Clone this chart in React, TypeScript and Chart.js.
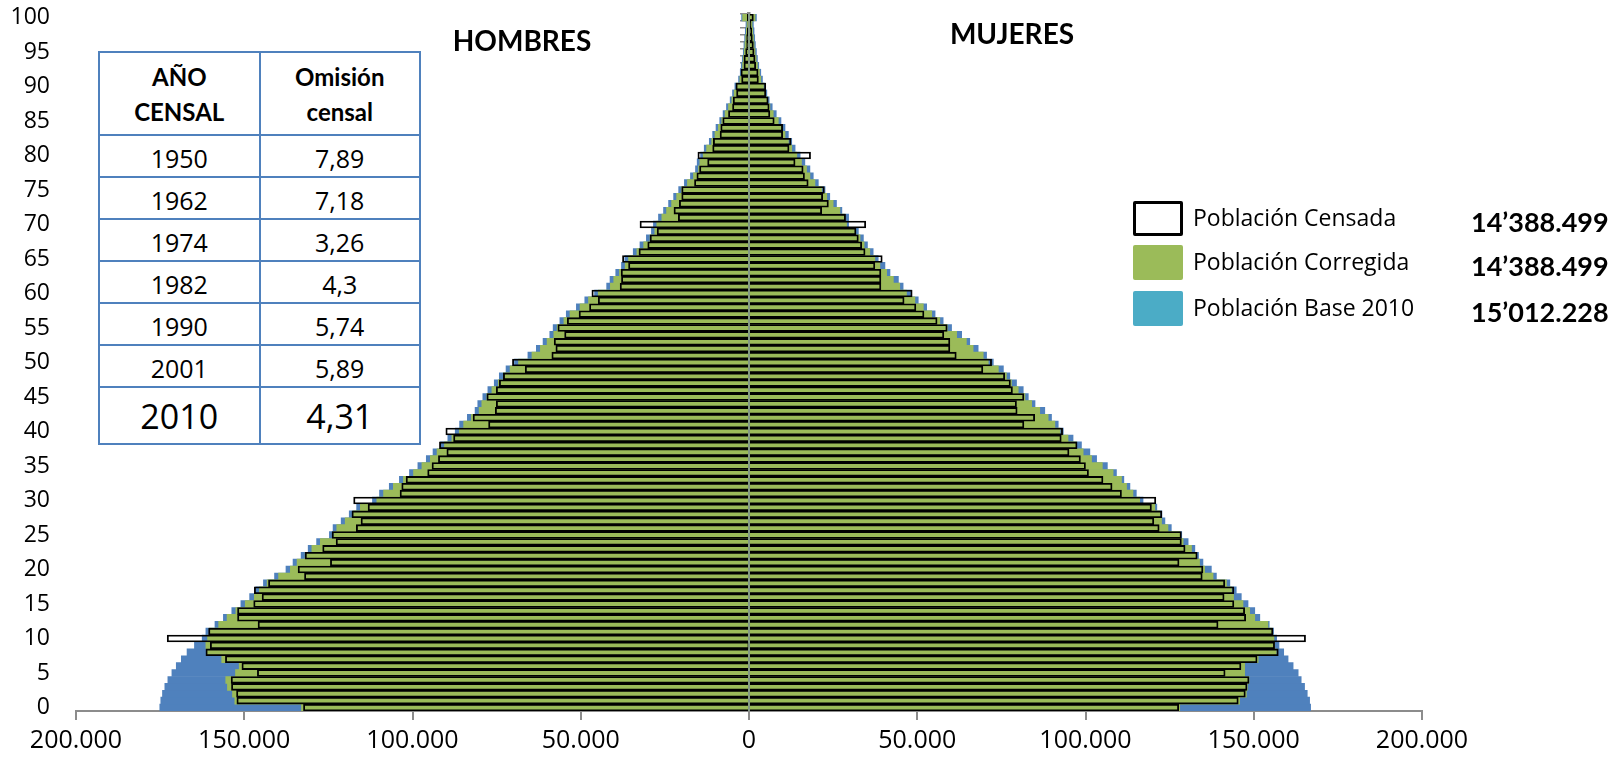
import React, { useEffect, useRef } from 'react';
import { Chart, registerables } from 'chart.js';

Chart.register(...registerables);

const AGES: string[] = Array.from({ length: 101 }, (_, i) => String(i));

// Población Censada (hombres / mujeres)
const CENSADA_H = [
  132400, 152200, 152300, 153800, 153900, 146100, 150700, 155600, 161400, 160100,
  172900, 160600, 145900, 152000, 152000, 147200, 144700, 147000, 142800, 132100,
  134000, 124400, 131900, 126700, 122700, 123900, 116700, 115300, 118000, 113200,
  117500, 103700, 103200, 101900, 95500, 94200, 92300, 89800, 92000, 87800,
  90100, 77400, 82000, 75400, 75100, 77900, 75100, 74200, 73000, 66500,
  70300, 58600, 57400, 57900, 54800, 56800, 54000, 50500, 47400, 44800,
  46700, 38300, 37900, 38000, 35800, 37600, 32700, 30100, 29400, 27300,
  32400, 21000, 22300, 20700, 20000, 20000, 16200, 15500, 14700, 12300,
  15200, 10800, 10600, 8600, 8400, 7800, 6100, 4900, 4700, 3700,
  3900, 2200, 2400, 1500, 1500, 1000, 700, 700, 500, 300,
  500,
];
const CENSADA_M = [
  127700, 145400, 147500, 148000, 148600, 141500, 146200, 151000, 157300, 156200,
  165400, 155700, 139400, 147600, 147300, 144100, 141200, 144100, 141400, 134700,
  134900, 127800, 133200, 129600, 128500, 128500, 121900, 120300, 122700, 119600,
  120900, 110700, 107900, 105200, 100900, 100000, 98500, 95100, 97500, 92800,
  93200, 81700, 84900, 79700, 79500, 81700, 78300, 77700, 76000, 69500,
  72100, 61600, 59700, 59700, 57900, 58900, 55900, 52000, 49600, 46100,
  48500, 39200, 39200, 39200, 37400, 39600, 34500, 33500, 32500, 31800,
  34700, 28700, 21600, 23600, 21900, 22400, 17600, 16500, 16100, 13700,
  18300, 11900, 12500, 10000, 10000, 7500, 6200, 6000, 5700, 5000,
  5000, 2800, 2700, 2000, 1800, 1500, 1300, 1000, 800, 600,
  1300,
];

// Población Corregida
const CORREGIDA_H = [
  133000, 152800, 153500, 155000, 155500, 152600, 151500, 156700, 161000, 161400,
  160900, 160400, 157600, 155100, 152500, 149700, 147000, 145500, 143200, 139800,
  136300, 134300, 131900, 129900, 127400, 123400, 122500, 120000, 117600, 115500,
  110600, 108600, 105700, 102700, 99700, 97200, 94700, 92700, 90500, 88300,
  86100, 84800, 82500, 80200, 79400, 77900, 76400, 74500, 73000, 71000,
  68500, 64500, 62000, 60000, 58000, 57000, 55000, 53200, 50200, 47700,
  44800, 41200, 40200, 38500, 36800, 35800, 33300, 31300, 29400, 28000,
  27400, 25900, 24500, 23000, 21500, 20000, 18300, 16500, 15000, 14600,
  13600, 12600, 11100, 10100, 9100, 8100, 7100, 6100, 5100, 4400,
  3700, 2700, 2200, 1900, 1700, 1400, 1200, 1000, 800, 600,
  1900,
];
const CORREGIDA_M = [
  128000, 145800, 147800, 148100, 148600, 147300, 147300, 151300, 156700, 156200,
  156000, 155500, 154200, 150300, 148800, 146800, 144000, 143400, 141900, 137900,
  135400, 133900, 133000, 131500, 129000, 128000, 124500, 122600, 122100, 120600,
  116100, 114100, 112200, 110700, 108200, 105000, 101800, 99300, 97300, 94800,
  92400, 90900, 88900, 86400, 84000, 82000, 80000, 78000, 76500, 74100,
  71100, 69600, 66600, 64600, 61700, 58900, 56700, 54300, 51800, 49300,
  46800, 44800, 42900, 40900, 38900, 37400, 35900, 34200, 33000, 31500,
  29000, 28500, 27000, 25000, 23100, 21600, 19600, 18100, 17100, 15600,
  14200, 12700, 11700, 10700, 9700, 8700, 7200, 6200, 5400, 4800,
  4300, 3500, 3100, 2500, 2100, 1800, 1500, 1300, 1100, 900,
  1800,
];

// Población Base 2010
const BASE_H = [
  175100, 174800, 174300, 173600, 172700, 171500, 170200, 168700, 167000, 164800,
  162500, 161400, 158700, 156200, 153700, 151000, 148400, 146600, 144300, 141000,
  137600, 135500, 133100, 131000, 128500, 124700, 123600, 121200, 118800, 116600,
  111900, 109800, 106900, 103900, 100900, 98400, 95900, 93900, 91700, 89500,
  87300, 86000, 83700, 81400, 80600, 79100, 77600, 75700, 74200, 72200,
  69700, 65700, 63200, 61200, 59200, 58200, 56200, 54300, 51300, 48800,
  45900, 42300, 41300, 39600, 37900, 36900, 34400, 32400, 30500, 29000,
  28400, 26900, 25400, 23900, 22400, 20900, 19200, 17400, 15900, 15400,
  14400, 13300, 11800, 10800, 9800, 8700, 7700, 6700, 5600, 4900,
  4200, 3100, 2600, 2300, 2000, 1700, 1500, 1300, 1100, 900,
  2200,
];
const BASE_M = [
  166900, 166600, 165900, 165100, 164100, 163200, 161700, 160200, 158900, 157500,
  156800, 155900, 154600, 151800, 150300, 148300, 146300, 144800, 142900, 138900,
  137400, 134900, 133600, 132500, 130500, 128600, 125500, 123600, 122700, 121200,
  117100, 115100, 113200, 111400, 109200, 106500, 103300, 101300, 98800, 96300,
  93400, 91900, 89900, 87900, 85000, 83000, 81500, 79500, 77500, 75600,
  72600, 70600, 68100, 65600, 63200, 60200, 57700, 55300, 52800, 50300,
  48300, 45800, 44400, 41900, 40400, 38400, 36900, 35200, 34000, 32500,
  29600, 29600, 27600, 26000, 24000, 22600, 20600, 19100, 18100, 16600,
  15200, 13700, 12700, 11700, 10700, 9500, 8100, 6900, 6000, 5300,
  4800, 4000, 3500, 2900, 2500, 2200, 1900, 1700, 1500, 1300,
  2200,
];

const CENSUS_YEARS = ['1950', '1962', '1974', '1982', '1990', '2001', '2010'];
const OMISION = ['7,89', '7,18', '3,26', '4,3', '5,74', '5,89', '4,31'];

const LEGEND_LABELS = ['Población Censada', 'Población Corregida', 'Población Base 2010'];
const LEGEND_TOTALS = ['14’388.499', '14’388.499', '15’012.228'];

const X_MIN = -200000;
const X_MAX = 200000;
const X_STEP = 50000;

const fmt = (n: number) => String(Math.round(Math.abs(n))).replace(/\B(?=(\d{3})+(?!\d))/g, '.');

const barCommon = {
  grouped: false,
  barPercentage: 1,
  categoryPercentage: 1,
};

export default function App() {
  const ref = useRef<HTMLCanvasElement | null>(null);

  useEffect(() => {
    if (!ref.current) return;
    const chart = new Chart(ref.current, {
      type: 'bar',
      data: {
        labels: AGES,
        datasets: [
          { ...barCommon, label: 'Censada H', data: CENSADA_H.map((v) => -v), backgroundColor: 'rgba(0,0,0,0)', borderColor: '#000000', borderWidth: 1.2 },
          { ...barCommon, label: 'Censada M', data: CENSADA_M, backgroundColor: 'rgba(0,0,0,0)', borderColor: '#000000', borderWidth: 1.2 },
          { ...barCommon, label: 'Corregida H', data: CORREGIDA_H.map((v) => -v), backgroundColor: '#9BBB59', borderWidth: 0 },
          { ...barCommon, label: 'Corregida M', data: CORREGIDA_M, backgroundColor: '#9BBB59', borderWidth: 0 },
          { ...barCommon, label: 'Base H', data: BASE_H.map((v) => -v), backgroundColor: '#4F81BD', borderWidth: 0 },
          { ...barCommon, label: 'Base M', data: BASE_M, backgroundColor: '#4F81BD', borderWidth: 0 },
        ] as any,
      },
      options: {
        indexAxis: 'y',
        animation: false,
        responsive: false,
        maintainAspectRatio: false,
        layout: { padding: { top: 14, right: 200, left: 0, bottom: 0 } },
        plugins: { legend: { display: false }, tooltip: { enabled: false }, title: { display: false } },
        scales: {
          x: {
            type: 'linear',
            min: X_MIN,
            max: X_MAX,
            ticks: {
              stepSize: X_STEP,
              callback: (v: any) => fmt(Number(v)),
              font: { family: 'Open Sans', size: 25 },
              color: '#000000',
              padding: 6,
              maxRotation: 0,
            },
            grid: { drawOnChartArea: false, drawTicks: true, tickLength: 9, color: '#8c8c8c', lineWidth: 2 },
            border: { display: true, color: '#8c8c8c', width: 2 },
            afterFit: (s: any) => { s.height = 46; },
          },
          y: {
            type: 'category',
            reverse: true,
            offset: true,
            ticks: {
              autoSkip: false,
              callback: (_v: any, i: number) => (i % 5 === 0 ? AGES[i] : null),
              font: { family: 'Open Sans', size: 23 },
              color: '#000000',
              padding: 26,
            },
            grid: { display: false, drawTicks: false },
            border: { display: false },
            afterFit: (s: any) => {
              s.width = 76;
              s.paddingTop = 0;
              s.paddingBottom = 0;
            },
          },
          y2: {
            type: 'category',
            position: { x: 0 },
            reverse: true,
            offset: true,
            z: 1,
            ticks: { display: false },
            grid: { drawOnChartArea: false, drawTicks: true, tickLength: 7, color: '#8c8c8c', lineWidth: 1.5, offset: true },
            border: { display: true, color: '#8c8c8c', width: 3.5 },
            afterFit: (s: any) => {
              s.paddingTop = 0;
              s.paddingBottom = 0;
            },
          },
        } as any,
      },
    });
    return () => chart.destroy();
  }, []);

  const tableBorder = '2.5px solid #4F81BD';
  const cellBase: React.CSSProperties = {
    border: tableBorder,
    textAlign: 'center',
    verticalAlign: 'middle',
    padding: 0,
    color: '#000',
  };

  return (
    <div style={{ position: 'fixed', left: 0, top: 0, width: 1622, height: 757, background: '#fff', overflow: 'hidden' }}>
      <canvas ref={ref} width={1622} height={757} style={{ position: 'absolute', left: 0, top: 0, width: 1622, height: 757 }} />

      <div style={{ position: 'absolute', left: 422, top: 22, width: 200, textAlign: 'center', fontFamily: 'Lato', fontWeight: 700, fontSize: 28, lineHeight: '36px', color: '#000' }}>
        HOMBRES
      </div>
      <div style={{ position: 'absolute', left: 912, top: 15, width: 200, textAlign: 'center', fontFamily: 'Lato', fontWeight: 700, fontSize: 28, lineHeight: '36px', color: '#000' }}>
        MUJERES
      </div>

      <table
        style={{
          position: 'absolute',
          left: 98,
          top: 51,
          width: 323,
          height: 394,
          borderCollapse: 'collapse',
          tableLayout: 'fixed',
          background: '#fff',
        }}
      >
        <tbody>
          <tr style={{ height: 83 }}>
            <td style={{ ...cellBase, fontFamily: 'Lato', fontWeight: 700, fontSize: 24, lineHeight: '35px' }}>AÑO<br />CENSAL</td>
            <td style={{ ...cellBase, fontFamily: 'Lato', fontWeight: 700, fontSize: 24, lineHeight: '35px' }}>Omisión<br />censal</td>
          </tr>
          {CENSUS_YEARS.map((yr, i) => {
            const last = i === CENSUS_YEARS.length - 1;
            const fs = last ? 34 : 25;
            return (
              <tr key={yr} style={{ height: last ? 57 : 42 }}>
                <td style={{ ...cellBase, fontFamily: 'Open Sans', fontSize: fs, lineHeight: '30px', paddingTop: last ? 0 : 4 }}>{yr}</td>
                <td style={{ ...cellBase, fontFamily: 'Open Sans', fontSize: fs, lineHeight: '30px', paddingTop: last ? 0 : 4 }}>{OMISION[i]}</td>
              </tr>
            );
          })}
        </tbody>
      </table>

      {LEGEND_LABELS.map((lab, i) => {
        const top = [201, 245, 291][i];
        const boxStyle: React.CSSProperties =
          i === 0
            ? { background: '#fff', border: '3.5px solid #000', boxSizing: 'border-box' }
            : { background: i === 1 ? '#9BBB59' : '#4BACC6' };
        return (
          <React.Fragment key={lab}>
            <div style={{ position: 'absolute', left: 1133, top, width: 50, height: 35, borderRadius: 2, ...boxStyle }} />
            <div style={{ position: 'absolute', left: 1193, top: top - 2, height: 36, lineHeight: '36px', fontFamily: 'Open Sans', fontSize: 23, color: '#000', whiteSpace: 'nowrap' }}>
              {lab}
            </div>
            <div style={{ position: 'absolute', left: 1471, top: top + 3, height: 36, lineHeight: '36px', fontFamily: 'Lato', fontWeight: 700, fontSize: 27, color: '#000', whiteSpace: 'nowrap' }}>
              {LEGEND_TOTALS[i]}
            </div>
          </React.Fragment>
        );
      })}
    </div>
  );
}
